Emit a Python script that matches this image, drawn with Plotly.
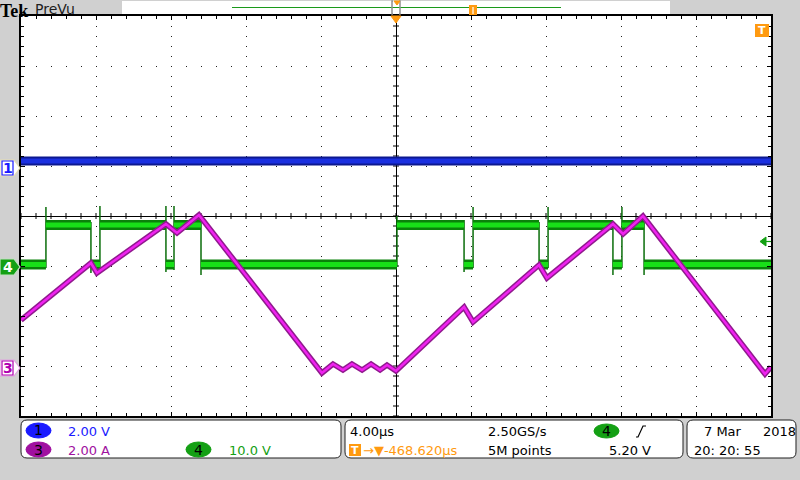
import numpy as np
import plotly.graph_objects as go

# ---------------- data (read from the screen) ----------------
# channel settings: units per division and marker position (divisions from centre)
ch1_scale, ch1_pos = 2.0, 0.96      # V/div
ch3_scale, ch3_pos = 2.0, -3.04     # A/div
ch4_scale, ch4_pos = 10.0, -1.02    # V/div

time_range = [-20.0, 20.0]          # µs, 4.00 µs/div

# CH1 (blue) – flat DC level
ch1_t = [-20.0, 20.0]
ch1_v = [0.28, 0.28]

# CH3 (magenta) – inductor current, A
ch3_t = [-20.0, -16.27, -15.95, -12.27, -11.68, -10.51, -3.95, -3.36, -2.83, -2.35,
         -1.81, -1.33, -0.85, -0.48, 0.0, 3.63, 4.11, 7.63, 8.05, 11.57,
         12.11, 13.17, 19.68, 20.0]
ch3_a = [1.92, 4.20, 3.80, 5.76, 5.40, 6.12, -0.20, 0.16, -0.08, 0.16,
         -0.08, 0.16, -0.08, 0.12, -0.12, 2.44, 1.84, 4.12, 3.60, 5.76,
         5.36, 6.08, -0.24, 0.04]

# CH4 (green) – switch node, V
ch4_edges = [-18.67, -16.27, -15.79, -12.27, -11.84, -10.40, 0.05, 3.63, 4.11, 7.63,
             8.11, 11.57, 12.05, 13.23]
ch4_state = [0, 1, 0, 1, 0, 1, 0, 1, 0, 1, 0, 1, 0, 1, 0]   # level of each segment
ch4_levels = [0.5, 8.4]                                     # low / high, V
ch4_spike_top = [12.0, 9.0, 12.2, 12.2, 12.2, 9.4, 10.2, 9.4, 12.0, 9.0,
                 12.0, 9.0, 12.0, 9.4]
ch4_spike_bot = [-0.2, -1.2, -0.6, -1.0, -0.6, -1.6, 0.0, -1.0, -0.2, -0.2,
                 -0.2, -1.6, -0.2, -1.6]

# ---------------- helpers ----------------
PL, PR, PT, PB = 21, 771, 16, 416


def fx(x):
    return (x - PL) / (PR - PL)


def fy(y):
    return (PB - y) / (PB - PT)


def to_div(vals, scale, pos):
    return [None if v is None else v / scale + pos for v in vals]


# ---------------- traces ----------------
fig = go.Figure()

# CH4 thick level bands
bounds = [time_range[0]] + ch4_edges + [time_range[1]]
band_t, band_v = [], []
for i, s in enumerate(ch4_state):
    band_t += [bounds[i], bounds[i + 1], None]
    band_v += [ch4_levels[s], ch4_levels[s], None]

# CH4 thin step line with edge spikes
step_t, step_v = [time_range[0]], [ch4_levels[ch4_state[0]]]
for i, te in enumerate(ch4_edges):
    step_t += [te, te, te, te]
    step_v += [ch4_levels[ch4_state[i]], ch4_spike_bot[i], ch4_spike_top[i],
               ch4_levels[ch4_state[i + 1]]]
step_t.append(time_range[1])
step_v.append(ch4_levels[ch4_state[-1]])

fig.add_trace(go.Scatter(x=step_t, y=to_div(step_v, ch4_scale, ch4_pos), mode="lines",
                         line=dict(color="#0b6e0b", width=1.5), hoverinfo="skip",
                         showlegend=False))
fig.add_trace(go.Scatter(x=band_t, y=to_div(band_v, ch4_scale, ch4_pos), mode="lines",
                         line=dict(color="#0a820a", width=10), hoverinfo="skip",
                         showlegend=False))
fig.add_trace(go.Scatter(x=band_t, y=to_div(band_v, ch4_scale, ch4_pos), mode="lines",
                         line=dict(color="#18e018", width=5), hoverinfo="skip",
                         showlegend=False))

# CH3 magenta
fig.add_trace(go.Scatter(x=ch3_t, y=to_div(ch3_a, ch3_scale, ch3_pos), mode="lines",
                         line=dict(color="#901a8e", width=5.5), hoverinfo="skip",
                         showlegend=False))
fig.add_trace(go.Scatter(x=ch3_t, y=to_div(ch3_a, ch3_scale, ch3_pos), mode="lines",
                         line=dict(color="#f022f0", width=2.5), hoverinfo="skip",
                         showlegend=False))

# CH1 blue
fig.add_trace(go.Scatter(x=ch1_t, y=to_div(ch1_v, ch1_scale, ch1_pos), mode="lines",
                         line=dict(color="#0c1890", width=9), hoverinfo="skip",
                         showlegend=False))
fig.add_trace(go.Scatter(x=ch1_t, y=to_div(ch1_v, ch1_scale, ch1_pos), mode="lines",
                         line=dict(color="#1a30e0", width=5), hoverinfo="skip",
                         showlegend=False))

# ---------------- decoration ----------------
shapes = []
ann = []

# ticks along centre lines
for t in np.arange(-20, 20.001, 0.8):
    shapes.append(dict(type="line", xref="x", yref="y", x0=t, x1=t, y0=-0.06, y1=0.06,
                       line=dict(color="black", width=1), layer="below"))
for d in np.arange(-4, 4.001, 0.2):
    shapes.append(dict(type="line", xref="x", yref="y", x0=-0.16, x1=0.16, y0=d, y1=d,
                       line=dict(color="black", width=1), layer="below"))


def rect(x0, y0, x1, y1, fill, line="rgba(0,0,0,0)", lw=1):
    shapes.append(dict(type="rect", xref="paper", yref="paper", x0=fx(x0), x1=fx(x1),
                       y0=fy(y1), y1=fy(y0), fillcolor=fill, line=dict(color=line, width=lw),
                       layer="above"))


def path(pts, fill, line, lw=1, close=True):
    s = "M " + " L ".join(f"{fx(x):.5f},{fy(y):.5f}" for x, y in pts)
    if close:
        s += " Z"
    shapes.append(dict(type="path", xref="paper", yref="paper", path=s,
                       fillcolor=fill, line=dict(color=line, width=lw), layer="above"))


def rrect(x0, y0, x1, y1, r, fill, line, lw=1):
    def P(x, y):
        return f"{fx(x):.5f},{fy(y):.5f}"
    s = (f"M {P(x0 + r, y0)} L {P(x1 - r, y0)} Q {P(x1, y0)} {P(x1, y0 + r)} "
         f"L {P(x1, y1 - r)} Q {P(x1, y1)} {P(x1 - r, y1)} L {P(x0 + r, y1)} "
         f"Q {P(x0, y1)} {P(x0, y1 - r)} L {P(x0, y0 + r)} Q {P(x0, y0)} {P(x0 + r, y0)} Z")
    shapes.append(dict(type="path", xref="paper", yref="paper", path=s,
                       fillcolor=fill, line=dict(color=line, width=lw), layer="above"))


def pill(x0, y0, x1, y1, fill):
    shapes.append(dict(type="circle", xref="paper", yref="paper", x0=fx(x0), x1=fx(x1),
                       y0=fy(y1), y1=fy(y0), fillcolor=fill, line=dict(color=fill, width=1),
                       layer="above"))


def text(x, y, s, color="black", size=13, anchor="left", family="DejaVu Sans", bold=False):
    if bold:
        s = f"<b>{s}</b>"
    ann.append(dict(x=fx(x), y=fy(y), xref="paper", yref="paper", text=s, showarrow=False,
                    xanchor=anchor, yanchor="middle", borderpad=0,
                    font=dict(color=color, size=size, family=family)))


# header
text(-1, 11, "Tek", size=18, family="Liberation Serif", bold=True)
text(34, 9.5, "PreVu", size=14, color="#202020")
rect(122, 1, 670, 14, "white")
path([(232, 7.5), (561, 7.5)], None, "#1a9a1a", 1.2, close=False)
path([(393, 1), (392, 1), (392, 14), (393, 14)], None, "#909090", 1.5, close=False)
path([(399, 1), (400, 1), (400, 14), (399, 14)], None, "#909090", 1.5, close=False)
path([(394, 1), (400, 1), (397, 5)], "#ff9a10", "#ff9a10")
rect(469, 5, 477, 15, "#ff9a10")
path([(473, 7), (473, 14)], None, "white", 1.2, close=False)
# trigger position marker at top of grid
path([(391, 16), (401, 16), (396, 23)], "#ff9a10", "#ff9a10")
# trigger marker top right
rect(755, 24, 769, 37, "#ff9a10")
text(762, 31, "T", color="white", size=11, anchor="center", bold=True)

# trigger level arrow (right)
path([(760, 241.5), (766, 237), (766, 246)], "#12a012", "#12a012")
path([(766, 241.5), (771, 241.5)], None, "#12a012", 1.2, close=False)


# channel markers (left)
def marker(yc, fill, outline, box_color):
    path([(0, yc - 8), (14, yc - 8), (20, yc), (14, yc + 8), (0, yc + 8)], fill, outline, 1.2)
    if box_color:
        rect(2, yc - 7, 13, yc + 7, "rgba(0,0,0,0)", box_color, 1.2)


marker(168, "white", "#e6ddb0", "#1a1aff")
text(7.5, 168, "1", color="#1a1aff", size=14, anchor="center", bold=True)
marker(267, "#14a014", "#c0e0c0", None)
text(7.5, 267, "4", color="white", size=14, anchor="center", bold=True)
marker(368, "white", "#e0a0e0", "#b000b0")
text(7.5, 368, "3", color="#b000b0", size=14, anchor="center", bold=True)

# bottom panels
rrect(21, 420, 341, 458, 6, "white", "#202020")
rrect(345, 420, 683, 458, 6, "white", "#202020")
rrect(687, 420, 796, 458, 6, "white", "#202020")

pill(26, 423, 51, 438, "#1a1aff")
text(38.5, 430.5, "1", size=14, anchor="center")
text(67, 431, "2.00 V", color="#1a1aff")
pill(26, 442, 51, 457, "#a010a0")
text(38.5, 449.5, "3", size=14, anchor="center")
text(67, 450, "2.00 A", color="#a010a0")
pill(186, 442, 211, 457, "#14a014")
text(198.5, 449.5, "4", size=14, anchor="center")
text(228, 450, "10.0 V", color="#14a014")

text(349, 431, "4.00µs")
text(487, 431, "2.50GS/s")
pill(594, 424, 619, 438, "#14a014")
text(606.5, 431, "4", size=14, anchor="center")
path([(636, 437), (638, 437), (643, 426), (646, 426)], None, "black", 1.2, close=False)
rect(349, 444, 361, 456, "#ff9a10")
text(355, 450, "T", color="white", size=11, anchor="center", bold=True)
text(362, 450, "→▼-468.620µs", color="#ff9a10")
text(487, 450, "5M points")
text(652, 450, "5.20 V", anchor="right")
text(703, 431, "7 Mar")
text(762, 431, "2018")
text(693, 450, "20: 20: 55")

fig.update_layout(
    width=800, height=480,
    margin=dict(l=PL, r=800 - PR, t=PT, b=480 - PB),
    paper_bgcolor="#d0d0d0", plot_bgcolor="white",
    shapes=shapes, annotations=ann, showlegend=False,
    xaxis=dict(range=time_range, dtick=4, tick0=0, showticklabels=False,
               showgrid=True, gridcolor="#202020", gridwidth=1, griddash="1px,9px",
               zeroline=True, zerolinecolor="black", zerolinewidth=1,
               showline=True, linecolor="black", linewidth=2, mirror="allticks",
               ticks="inside", ticklen=4, tickcolor="black",
               minor=dict(dtick=0.8, ticks="inside", ticklen=3, tickcolor="black", showgrid=False),
               fixedrange=True),
    yaxis=dict(range=[-4, 4], dtick=1, tick0=0, showticklabels=False,
               showgrid=True, gridcolor="#202020", gridwidth=1, griddash="1px,14px",
               zeroline=True, zerolinecolor="black", zerolinewidth=1,
               showline=True, linecolor="black", linewidth=2, mirror="allticks",
               ticks="inside", ticklen=4, tickcolor="black",
               minor=dict(dtick=0.2, ticks="inside", ticklen=3, tickcolor="black", showgrid=False),
               fixedrange=True),
)

fig.write_html("out.html", config={"displayModeBar": False, "staticPlot": True},
               post_script="document.body.style.margin='0';document.body.style.overflow='hidden';")
